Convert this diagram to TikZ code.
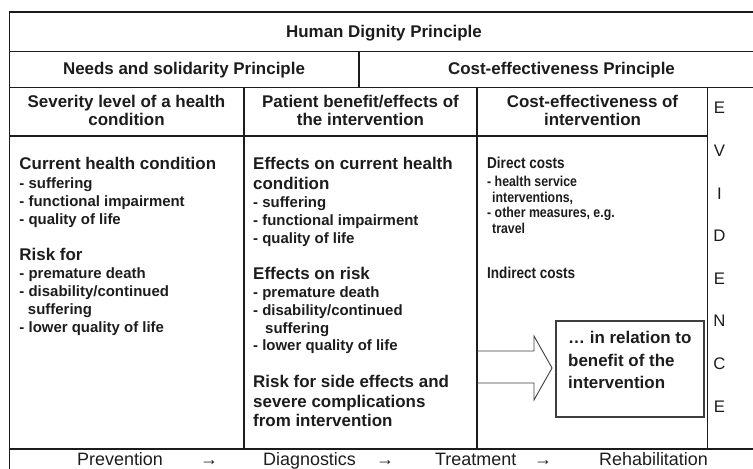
\documentclass[tikz,border=0pt]{standalone}
\usepackage{fontspec}
\setmainfont{Liberation Sans}
\newfontfamily\narrowsans[FakeStretch=0.86]{Liberation Sans}
\definecolor{ink}{HTML}{1C1C1C}
\begin{document}
\begin{tikzpicture}[x=1bp,y=-1bp,
  rule/.style={line width=1.1bp, draw=ink},
  hc/.style={font=\fontsize{17}{20}\selectfont\bfseries, text=ink, inner sep=0, anchor=base},
  hl/.style={font=\fontsize{17}{20}\selectfont\bfseries, text=ink, inner sep=0, anchor=base west},
  bl/.style={font=\fontsize{15}{18}\selectfont\bfseries, text=ink, inner sep=0, anchor=base west},
  sh/.style={font=\narrowsans\fontsize{15.8}{18}\selectfont\bfseries, text=ink, inner sep=0, anchor=base west},
  sb/.style={font=\narrowsans\fontsize{14.4}{16}\selectfont\bfseries, text=ink, inner sep=0, anchor=base west},
  ev/.style={font=\fontsize{16.8}{20}\selectfont, text=ink, inner sep=0, anchor=base},
  ft/.style={font=\fontsize{18}{20}\selectfont, text=ink, inner sep=0, anchor=base west}]
\useasboundingbox (0,0) rectangle (753,469);

% grid
\draw[rule] (9.3,469) -- (9.3,12) -- (753,12);
\draw[rule] (9.3,51.3) -- (753,51.3);
\draw[rule] (9.3,87.3) -- (753,87.3);
\draw[rule] (9.3,136) -- (707.5,136);
\draw[rule] (9.3,449) -- (753,449);
\draw[rule] (359,51.3) -- (359,87.3);
\draw[rule] (244,87.3) -- (244,449);
\draw[rule] (477,87.3) -- (477,449);
\draw[rule] (707.5,87.3) -- (707.5,449);

% header rows
\node[hc] (hd) at (384,37.3) {Human Dignity Principle};
\node[hc] (ns) at (184,75) {Needs and solidarity Principle};
\node[hc] (cp) at (561.5,75) {Cost-effectiveness Principle};
\node[hc] (h1a) at (126.5,107.3) {Severity level of a health};
\node[hc] (h1b) at (126.5,126) {condition};
\node[hc] (h2a) at (360.5,107.3) {Patient benefit/effects of};
\node[hc] (h2b) at (360.5,126) {the intervention};
\node[hc] (h3a) at (592.5,107.3) {Cost-effectiveness of};
\node[hc] (h3b) at (592.5,126) {intervention};

% column 1
\node[hl] (a1) at (19.3,170) {Current health condition};
\node[bl] (a2) at (19.3,188.3) {- suffering};
\node[bl] (a3) at (19.3,206.3) {- functional impairment};
\node[bl] (a4) at (19.3,224.3) {- quality of life};
\node[hl] (a5) at (19.3,261) {Risk for};
\node[bl] (a6) at (19.3,279) {- premature death};
\node[bl] (a7) at (19.3,297) {- disability/continued};
\node[bl] (a8) at (27.8,315) {suffering};
\node[bl] (a9) at (19.3,333) {- lower quality of life};

% column 2
\node[hl] (b1) at (253,170) {Effects on current health};
\node[hl] (b2) at (253,190) {condition};
\node[bl] (b3) at (253,207.5) {- suffering};
\node[bl] (b4) at (253,225.5) {- functional impairment};
\node[bl] (b5) at (253,243.5) {- quality of life};
\node[hl] (b6) at (253,279.3) {Effects on risk};
\node[bl] (b7) at (253,297.3) {- premature death};
\node[bl] (b8) at (253,315.3) {- disability/continued};
\node[bl] (b9) at (265,333.3) {suffering};
\node[bl] (b10) at (253,350.8) {- lower quality of life};
\node[hl] (b11) at (253,387.3) {Risk for side effects and};
\node[hl] (b12) at (253,407) {severe complications};
\node[hl] (b13) at (253,426.7) {from intervention};

% column 3
\node[sh] (c1) at (487,169) {Direct costs};
\node[sb] (c2) at (487,187) {- health service};
\node[sb] (c3) at (492,202.5) {interventions,};
\node[sb] (c4) at (487,218) {- other measures, e.g.};
\node[sb] (c5) at (492,233.5) {travel};
\node[sh] (c6) at (487,279) {Indirect costs};

% block arrow and box
\draw[line width=0.9bp, draw=ink!85] (477,351) -- (534,351) -- (534,336) -- (552,368) -- (534,400) -- (534,383) -- (477,383);
\node[draw=ink!85, line width=1.1bp, minimum width=148bp, minimum height=96bp, inner sep=0] (rel) at (630,369) {};
\node[hl] (r1) at (568,344) {… in relation to};
\node[hl] (r2) at (568,366.5) {benefit of the};
\node[hl] (r3) at (568,388.5) {intervention};

% evidence
\foreach \l [count=\i from 0] in {E,V,I,D,E,N,C,E}
  \node[ev] (ev\i) at (719.5,114+42.6*\i) {\l};

% bottom row
\node[ft] (f1) at (77,465) {Prevention};
\node[ft] (f2) at (200,465) {→};
\node[ft] (f3) at (263,465) {Diagnostics};
\node[ft] (f4) at (376,465) {→};
\node[ft] (f5) at (435,465) {Treatment};
\node[ft] (f6) at (534,465) {→};
\node[ft] (f7) at (599,465) {Rehabilitation};
\end{tikzpicture}
\end{document}
